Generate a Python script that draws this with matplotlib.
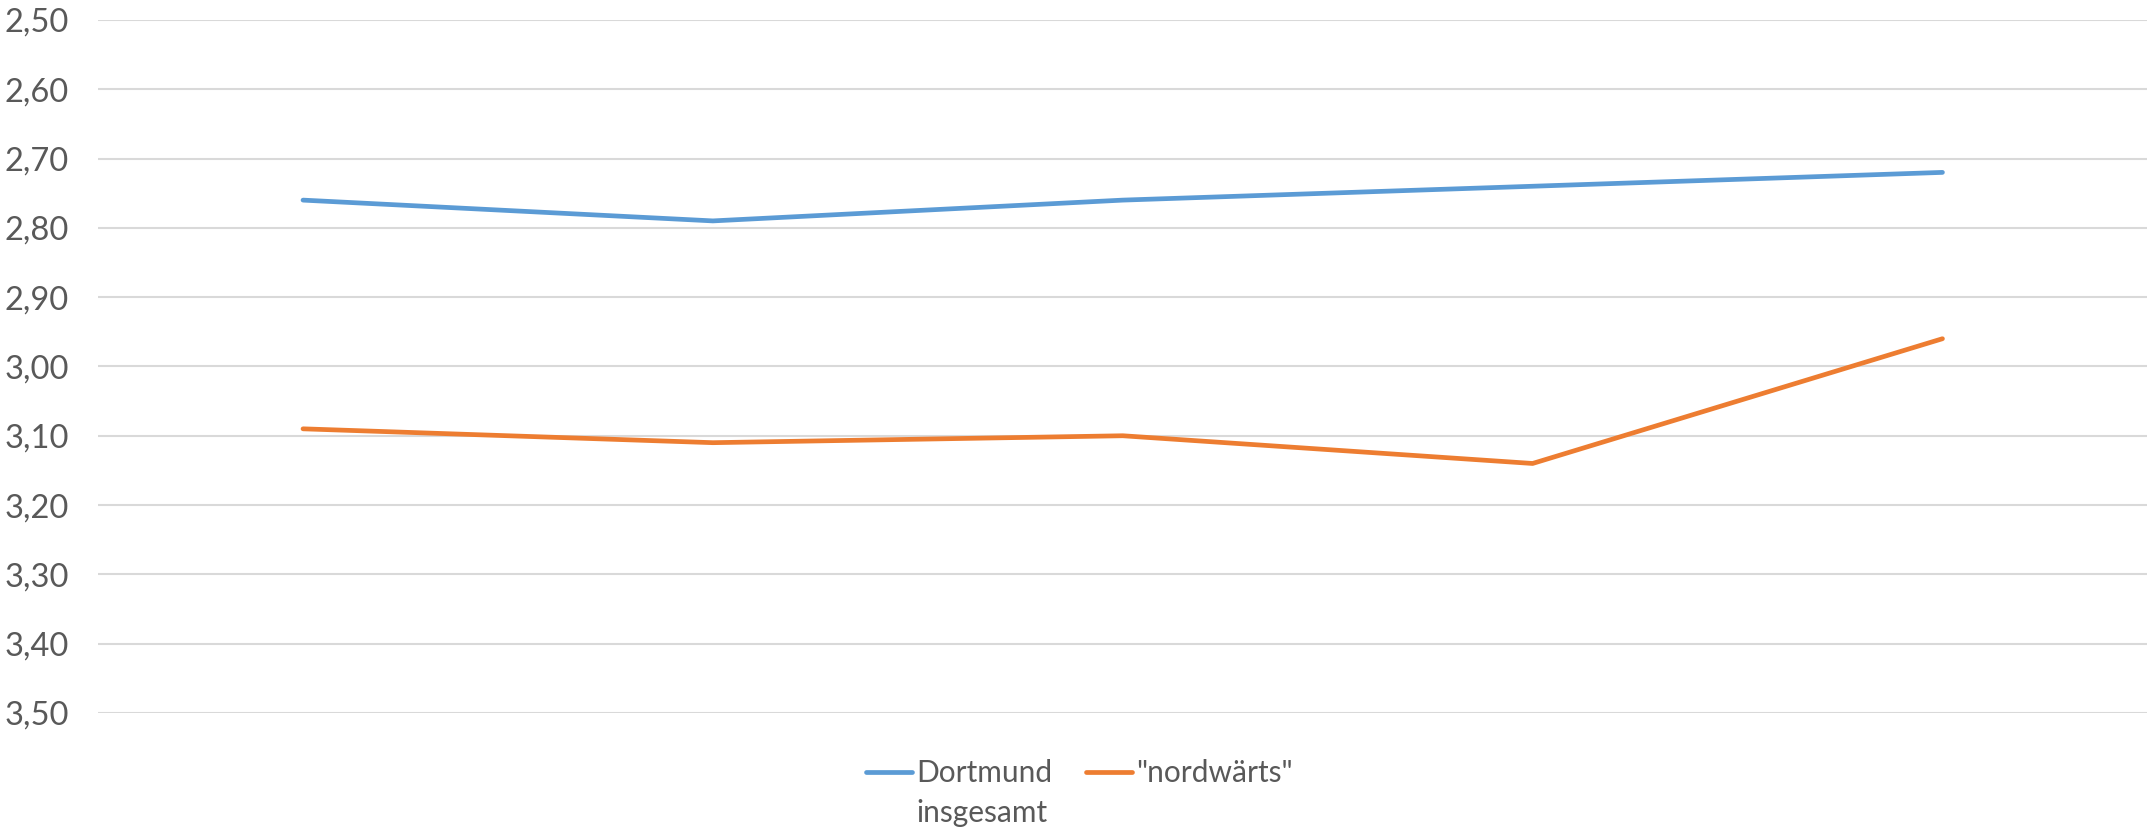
import matplotlib.pyplot as plt
from matplotlib.ticker import FuncFormatter

# values
categories = ["1", "2", "3", "4", "5"]
dortmund = [2.76, 2.79, 2.76, 2.74, 2.72]
nordwaerts = [3.09, 3.11, 3.10, 3.14, 2.96]
y_ticks = [2.5, 2.6, 2.7, 2.8, 2.9, 3.0, 3.1, 3.2, 3.3, 3.4, 3.5]

BLUE = "#5B9BD5"
ORANGE = "#ED7D31"
TEXT = "#595959"
GRID = "#D9D9D9"

plt.rcParams["font.family"] = ["Lato", "DejaVu Sans"]

fig = plt.figure(figsize=(21.56, 8.30), dpi=100)
ax = fig.add_axes([0.0455, 0.141, 0.9505, 0.835])

x = range(len(categories))
ax.plot(x, dortmund, color=BLUE, lw=3.4, solid_capstyle="round", label="Dortmund")
ax.plot(x, nordwaerts, color=ORANGE, lw=3.4, solid_capstyle="round", label='"nordwärts"')

ax.set_xlim(-0.5, len(categories) - 0.5)
ax.set_ylim(3.5, 2.5)
ax.set_yticks(y_ticks)
ax.yaxis.set_major_formatter(FuncFormatter(lambda v, p: f"{v:.2f}".replace(".", ",")))
ax.set_xticks([])
ax.tick_params(axis="y", length=0, pad=21, labelsize=23.5, labelcolor=TEXT)
ax.grid(axis="y", color=GRID, lw=1.5)
ax.set_axisbelow(True)
for s in ax.spines.values():
    s.set_visible(False)

leg = fig.legend(loc="center left", bbox_to_anchor=(0.4017, 0.0687), ncol=2, frameon=False,
                 fontsize=21.5, labelcolor=TEXT, handlelength=1.55, handletextpad=0.14,
                 columnspacing=1.1, borderpad=0, borderaxespad=0)

# second line of the first legend entry, under "Dortmund"
fig.canvas.draw()
bb = leg.get_texts()[0].get_window_extent()
fig.text(bb.x0, bb.y0 - 40, "insgesamt", transform=None, fontsize=21.5, color=TEXT,
         va="bottom", ha="left")

fig.savefig("out.png", dpi=100)
